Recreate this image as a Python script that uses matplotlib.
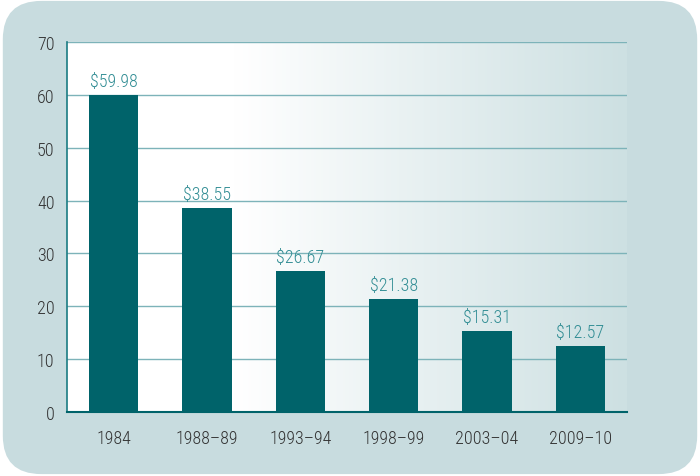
import numpy as np
import matplotlib.pyplot as plt
from matplotlib.patches import FancyBboxPatch
from matplotlib.colors import LinearSegmentedColormap

periods = ["1984", "1988\u201389", "1993\u201394", "1998\u201399", "2003\u201304", "2009\u201310"]
prices = [59.98, 38.55, 26.67, 21.38, 15.31, 12.57]
price_labels = ["$59.98", "$38.55", "$26.67", "$21.38", "$15.31", "$12.57"]

bg_color = "#c8dcdf"
bar_color = "#00636a"
grid_color = "#7db3b9"
label_color = "#318d94"
tick_color = "#333333"

plt.rcParams['font.family'] = ['Roboto Condensed', 'DejaVu Sans']
plt.rcParams['font.weight'] = 'light'

fig = plt.figure(figsize=(7, 4.77), dpi=100)
fig.patch.set_facecolor("white")

# rounded background panel, kept behind the axes
panel = FancyBboxPatch((0.004, 0.004), 0.992, 0.992,
                       boxstyle="round,pad=0,rounding_size=0.055",
                       transform=fig.transFigure, facecolor=bg_color,
                       edgecolor="none", mutation_aspect=700 / 477, zorder=-10)
fig.patches.append(panel)

ax = fig.add_axes([67 / 700, 1 - 413 / 477, 560 / 700, 370 / 477])
ax.set_facecolor("none")
ax.set_xlim(-0.5, len(periods) - 0.5)
ax.set_ylim(0, 70)

# white -> light teal gradient behind the bars
cmap = LinearSegmentedColormap.from_list("grad", [(0, "white"), (0.3, "white"), (1, "#cde0e2")])
grad = np.linspace(0, 1, 256).reshape(1, -1)
ax.imshow(grad, cmap=cmap, aspect="auto", extent=(-0.5, len(periods) - 0.5, 0, 70), zorder=0)

ax.set_yticks(range(0, 71, 10))
for y in range(10, 71, 10):
    ax.axhline(y, color=grid_color, linewidth=1, zorder=1)

x = np.arange(len(periods))
ax.bar(x, prices, width=0.53, color=bar_color, zorder=2)
for xi, val, lab in zip(x, prices, price_labels):
    ax.text(xi, val + 0.9, lab, ha="center", va="bottom", color=label_color, fontsize=13)

ax.set_xticks(x)
ax.set_xticklabels(periods)
ax.tick_params(axis="both", length=0, labelsize=13, colors=tick_color)
ax.tick_params(axis="x", pad=12)
ax.tick_params(axis="y", pad=9)

for side in ["top", "right"]:
    ax.spines[side].set_visible(False)
ax.spines["left"].set_color("#1b7c83")
ax.spines["bottom"].set_color(bar_color)
ax.spines["left"].set_linewidth(1.2)
ax.spines["bottom"].set_linewidth(1.5)

fig.savefig("out.png", dpi=100)
